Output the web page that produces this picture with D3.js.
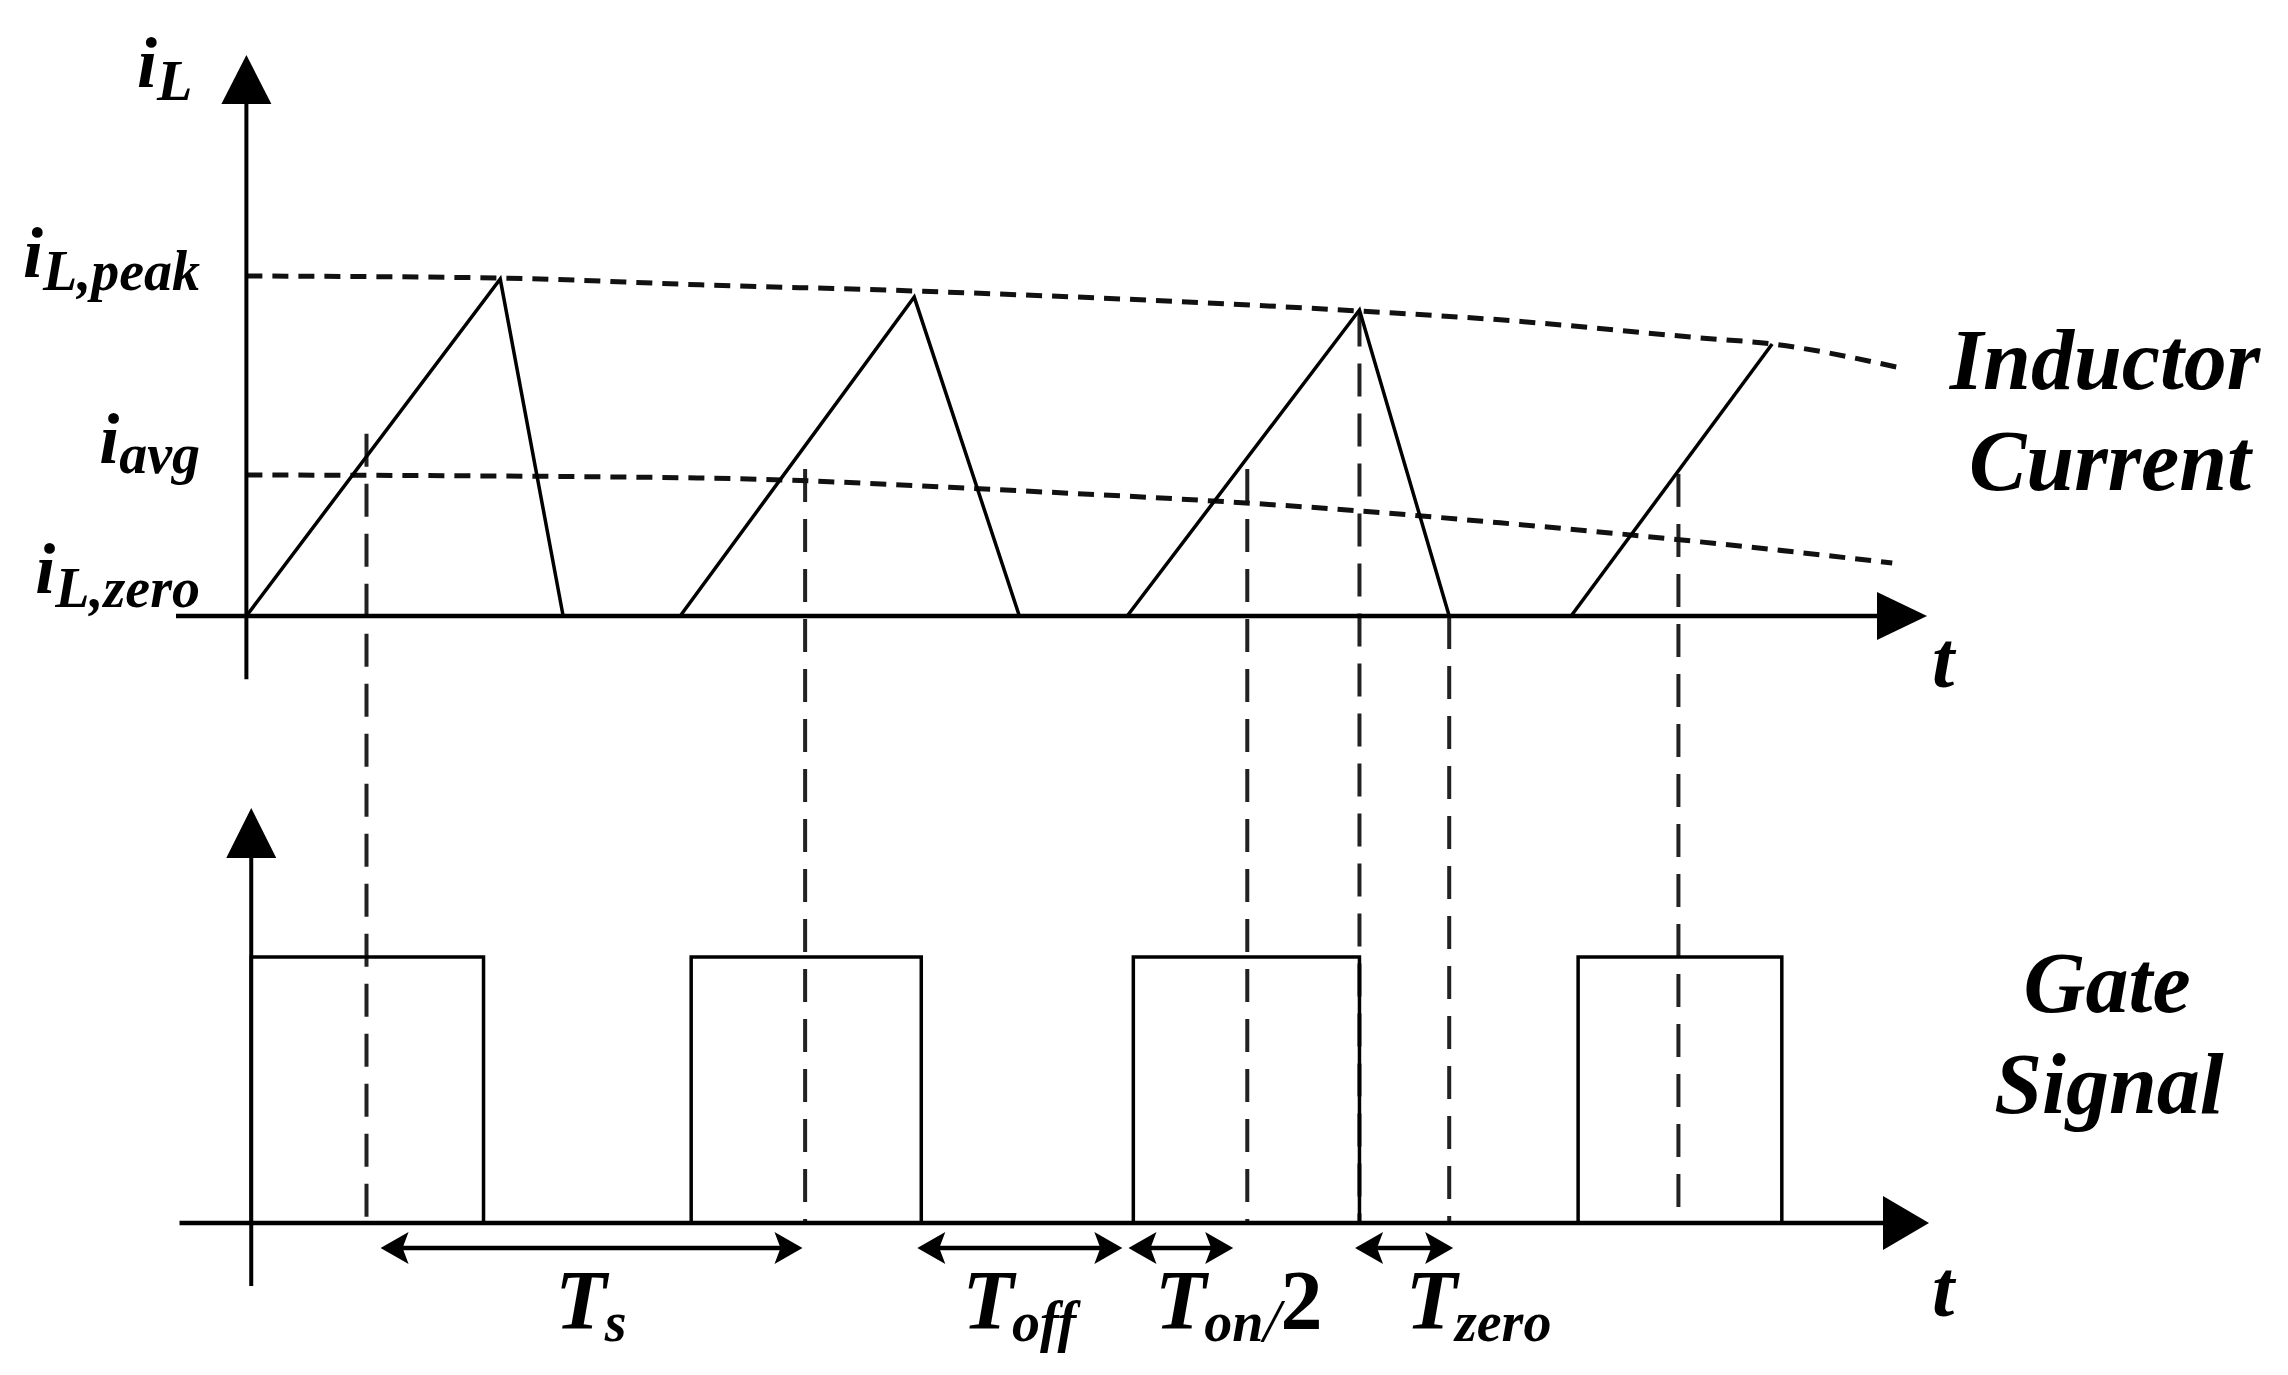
<!DOCTYPE html>
<html><head><meta charset="utf-8">
<script src="https://cdn.jsdelivr.net/npm/d3@7"></script>
<style>
html,body{margin:0;padding:0;background:#fff;}
svg{display:block;}
text{font-family:"Liberation Serif","Times New Roman",Times,serif;font-weight:bold;font-style:italic;fill:#000;}
</style>
</head><body>
<svg id="chart" width="2288" height="1375"></svg>
<script>
// ---------------- data ----------------
const timeDomain = [-16, 382];            // time (µs), span of both time axes
const currentDomain = [0, 10];            // normalised inductor current
const gateDomain = [0, 1];                // gate signal low / high

// inductor current triangles: [time, current]
const cycle1 = [[0, 0], [57.7, 9.91], [72.0, 0]];
const cycle2 = [[98.6, 0], [151.8, 9.38], [175.7, 0]];
const cycle3 = [[200.2, 0], [253.0, 9.0], [273.4, 0]];
const cycle4 = [[301.1, 0], [346.8, 8.0]];
const inductorCycles = [cycle1, cycle2, cycle3, cycle4];

// envelopes
const peakEnvelope = [[0, 10.0], [57.7, 9.94], [103.2, 9.74], [151.8, 9.56], [253.0, 8.97], [285, 8.71], [330.5, 8.18], [346.8, 8.0], [375.2, 7.32]];
const avgEnvelope = [[0, 4.15], [103.2, 4.06], [171.4, 3.71], [253.2, 3.09], [285, 2.74], [330.5, 2.18], [374.1, 1.56]];

// vertical guide lines: time, and current level where each starts
const guideTimes = [27.3, 127.0, 227.5, 253.0, 273.4, 325.5];
const guideTops = [5.36, 4.32, 4.32, 8.9, 0, 4.18];

// gate pulses
const gateOn = [1.1, 101.1, 201.6, 302.7];
const gateOff = [53.9, 153.4, 253.0, 349.0];

// interval annotations
const intervalStart = [30.5, 152.5, 200.5, 252.0];
const intervalEnd = [126.4, 199.1, 224.3, 274.3];
const intervalSub = ["s", "off", "on", "zero"];
const intervalTail = ["", "", "2", ""];
const intervalLabelAt = [78.3, 175.7, 206.5, 263.5];
const intervalAnchor = ["middle", "middle", "start", "start"];

// level labels on the current axis
const levelSub = ["L,peak", "avg", "L,zero"];
const levelValues = [10, 4.15, 0];

// ---------------- drawing ----------------
const svg = d3.select("#chart");
const x = d3.scaleLinear().domain(timeDomain).range([176, 1927]);
const yTop = d3.scaleLinear().domain(currentDomain).range([616, 276]);
const yGate = d3.scaleLinear().domain(gateDomain).range([1223, 957]);

const line = d3.line().x(d => x(d[0])).y(d => yTop(d[1]));
const curve = d3.line().x(d => x(d[0])).y(d => yTop(d[1])).curve(d3.curveMonotoneX);

// vertical dashed guides (under everything)
svg.append("g").selectAll("line").data(guideTimes).join("line")
  .attr("x1", d => x(d)).attr("x2", d => x(d))
  .attr("y1", (d, i) => yTop(guideTops[i])).attr("y2", yGate(0))
  .attr("stroke", "#222").attr("stroke-width", 4)
  .attr("stroke-dasharray", "33,17");

// envelopes
svg.append("g").selectAll("path").data([peakEnvelope, avgEnvelope]).join("path")
  .attr("d", curve).attr("fill", "none")
  .attr("stroke", "#111").attr("stroke-width", 5)
  .attr("stroke-dasharray", "16,10");

// inductor current ramps
svg.append("g").selectAll("path").data(inductorCycles).join("path")
  .attr("d", line).attr("fill", "none")
  .attr("stroke", "#000").attr("stroke-width", 3.5).attr("stroke-linejoin", "miter");

// gate pulses
svg.append("g").selectAll("path").data(gateOn).join("path")
  .attr("d", (d, i) => `M${x(d)},${yGate(0)}V${yGate(1)}H${x(gateOff[i])}V${yGate(0)}`)
  .attr("fill", "none").attr("stroke", "#000").attr("stroke-width", 3.5);

// axes
function arrowRight(g, xTip, y, len, half) {
  g.append("path").attr("d", `M${xTip},${y}L${xTip - len},${y - half}L${xTip - len},${y + half}Z`).attr("fill", "#000");
}
function arrowUp(g, xx, yTip, len, half) {
  g.append("path").attr("d", `M${xx},${yTip}L${xx - half},${yTip + len}L${xx + half},${yTip + len}Z`).attr("fill", "#000");
}
const axes = svg.append("g");
// top plot
axes.append("line").attr("x1", x(timeDomain[0])).attr("x2", x(timeDomain[1]) - 30)
  .attr("y1", yTop(0)).attr("y2", yTop(0)).attr("stroke", "#000").attr("stroke-width", 4.5);
arrowRight(axes, x(timeDomain[1]), yTop(0), 50, 24);
axes.append("line").attr("x1", x(0)).attr("x2", x(0))
  .attr("y1", yTop(-1.86)).attr("y2", yTop(16.5) + 30).attr("stroke", "#000").attr("stroke-width", 4);
arrowUp(axes, x(0), yTop(16.5), 49, 25);
// bottom plot
axes.append("line").attr("x1", x(-15.2)).attr("x2", x(timeDomain[1]) - 30)
  .attr("y1", yGate(0)).attr("y2", yGate(0)).attr("stroke", "#000").attr("stroke-width", 4.5);
arrowRight(axes, x(timeDomain[1]) + 2, yGate(0), 46, 27);
axes.append("line").attr("x1", x(gateOn[0])).attr("x2", x(gateOn[0]))
  .attr("y1", yGate(-0.237)).attr("y2", yGate(1.56) + 30).attr("stroke", "#000").attr("stroke-width", 4);
arrowUp(axes, x(gateOn[0]), yGate(1.56), 50, 25);

// interval arrows
const yArrow = yGate(0) + 25;
const ann = svg.append("g");
intervalStart.forEach((s, i) => {
  const a = x(s), b = x(intervalEnd[i]);
  ann.append("line").attr("x1", a + 20).attr("x2", b - 20).attr("y1", yArrow).attr("y2", yArrow)
    .attr("stroke", "#000").attr("stroke-width", 4.5);
  ann.append("path").attr("d", `M${a},${yArrow}L${a + 28},${yArrow - 16}L${a + 22},${yArrow}L${a + 28},${yArrow + 16}Z`).attr("fill", "#000");
  ann.append("path").attr("d", `M${b},${yArrow}L${b - 28},${yArrow - 16}L${b - 22},${yArrow}L${b - 28},${yArrow + 16}Z`).attr("fill", "#000");
  const t = ann.append("text").attr("x", x(intervalLabelAt[i])).attr("y", yGate(0) + 106)
    .attr("text-anchor", intervalAnchor[i]).attr("font-size", 84);
  t.append("tspan").text("T");
  t.append("tspan").attr("dx", -2).attr("dy", 12).attr("font-size", 56).text(intervalSub[i]);
  if (intervalTail[i]) {
    t.append("tspan").attr("font-size", 62).attr("font-weight", "normal").text("/");
    t.append("tspan").attr("dy", -12).attr("font-size", 84).attr("font-style", "normal").text(intervalTail[i]);
  }
});

// level labels
const levelOffset = [1, -12, -23];
const levelSubShift = [13, 10, 14];
levelValues.forEach((v, i) => {
  const t = svg.append("text").attr("x", 200).attr("y", yTop(v) + levelOffset[i])
    .attr("text-anchor", "end").attr("font-size", 72);
  t.append("tspan").text("i");
  t.append("tspan").attr("dy", levelSubShift[i]).attr("font-size", 56).text(levelSub[i]);
});

// axis name i_L
const il = svg.append("text").attr("x", 137).attr("y", 87).attr("font-size", 72);
il.append("tspan").text("i");
il.append("tspan").attr("dy", 13).attr("font-size", 58).text("L");

// t labels
svg.append("text").attr("x", 1932).attr("y", 687).attr("font-size", 80).text("t");
svg.append("text").attr("x", 1932).attr("y", 1316).attr("font-size", 80).text("t");

// right side titles
const titles = [["Inductor", 2105, 389], ["Current", 2110, 490], ["Gate", 2107, 1012], ["Signal", 2109, 1113]];
svg.append("g").selectAll("text").data(titles).join("text")
  .attr("x", d => d[1]).attr("y", d => d[2]).attr("text-anchor", "middle")
  .attr("font-size", 86).text(d => d[0]);
</script>
</body></html>
